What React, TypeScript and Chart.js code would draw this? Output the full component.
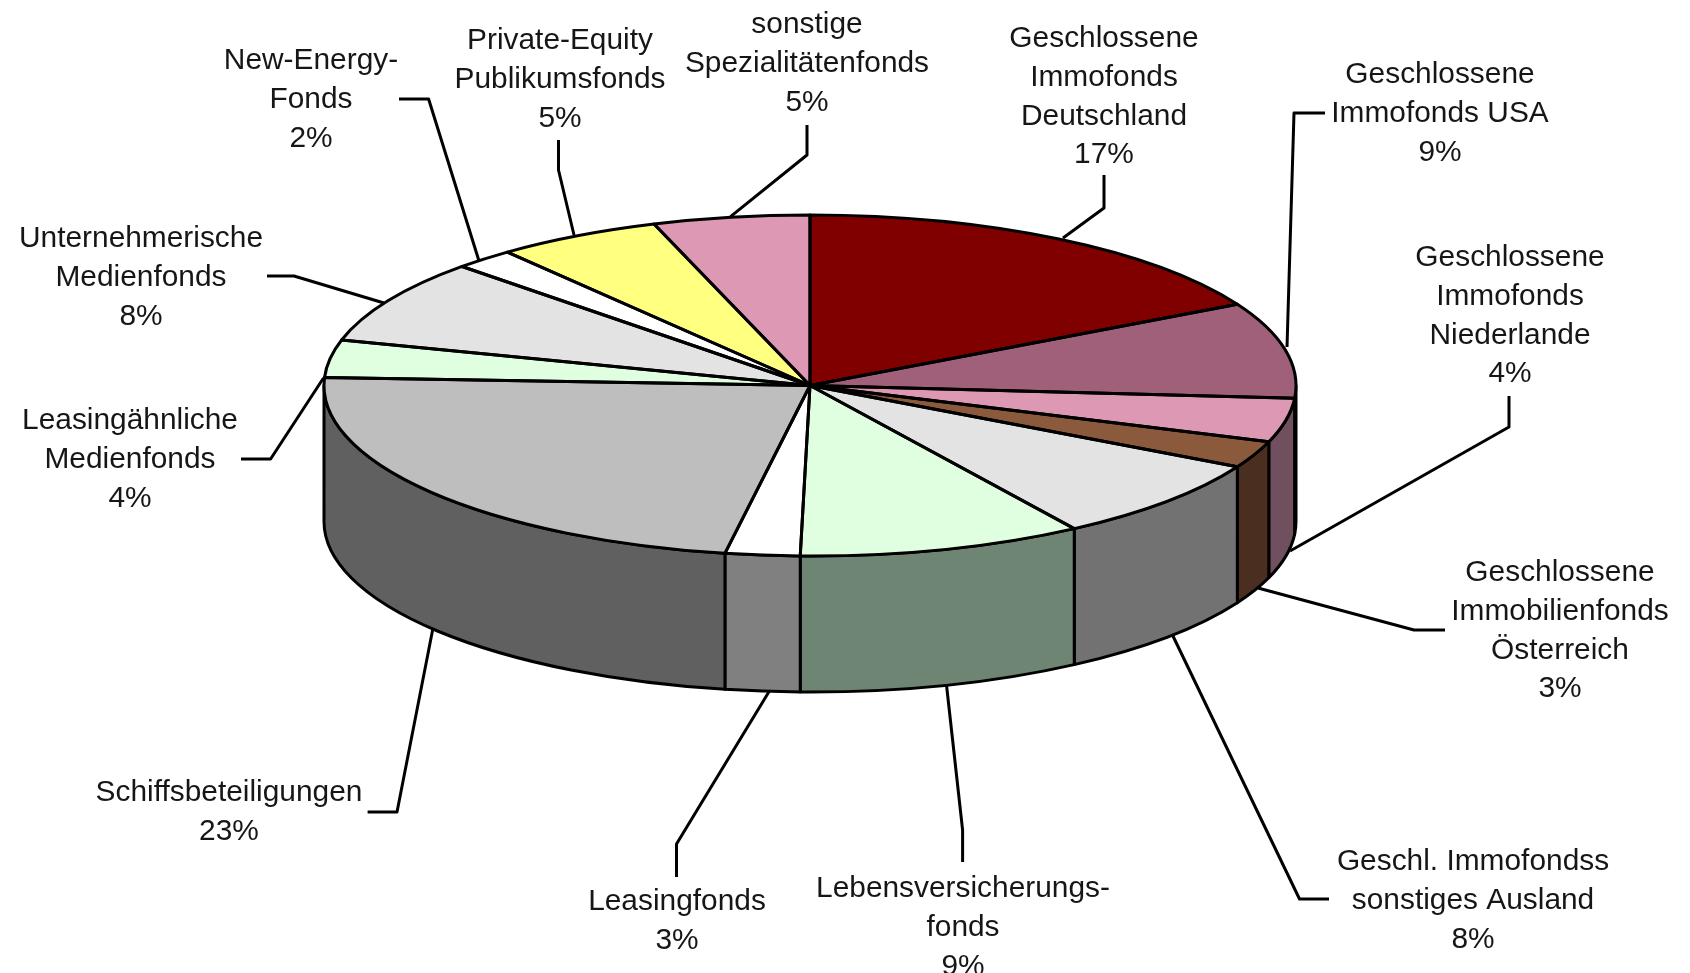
import React, { useEffect, useRef } from "react";
import { Chart, registerables } from "chart.js";

Chart.register(...registerables);

const categories = [
  ["Geschlossene", "Immofonds", "Deutschland"],
  ["Geschlossene", "Immofonds USA"],
  ["Geschlossene", "Immofonds", "Niederlande"],
  ["Geschlossene", "Immobilienfonds", "Österreich"],
  ["Geschl. Immofondss", "sonstiges Ausland"],
  ["Lebensversicherungs-", "fonds"],
  ["Leasingfonds"],
  ["Schiffsbeteiligungen"],
  ["Leasingähnliche", "Medienfonds"],
  ["Unternehmerische", "Medienfonds"],
  ["New-Energy-", "Fonds"],
  ["Private-Equity", "Publikumsfonds"],
  ["sonstige", "Spezialitätenfonds"],
];
const values = [17.1, 9.1, 4.15, 2.55, 7.95, 9.47, 2.48, 22.95, 3.55, 8.0, 2.0, 5.5, 5.2];
const percentLabels = ["17%", "9%", "4%", "3%", "8%", "9%", "3%", "23%", "4%", "8%", "2%", "5%", "5%"];
const topColors = ["#800000", "#A0607A", "#DD99B3", "#8B5A3C", "#E3E3E3", "#E0FFE0", "#FFFFFF", "#BEBEBE", "#E0FFE0", "#E3E3E3", "#FFFFFF", "#FFFF80", "#DD99B3"];
const wallColors = ["#400000", "#70505E", "#70505E", "#4A2E20", "#727272", "#6F8573", "#808080", "#606060", "#6F8573", "#727272", "#808080", "#808040", "#70505E"];

// layout of the hand-placed labels and their leader lines (page pixels)
const labelCentres: [number, number][] = [
  [1104, 36], [1440, 72], [1510, 255], [1560, 570], [1473, 859], [963, 886], [677, 899], [229, 790], [130, 418], [141, 236], [311, 58], [560, 38], [807, 22],
].map(([x, y]) => [x, y + 3] as [number, number]);
const leaders: [number, number][][] = [
  [[1104, 175], [1104, 208], [1063, 238]],
  [[1325, 113], [1294, 113], [1287, 347]],
  [[1509, 396], [1509, 427], [1290, 551]],
  [[1445, 630], [1414, 630], [1258, 588]],
  [[1329, 899], [1299.5, 899], [1172, 634]],
  [[962.6, 862], [962.6, 830], [946.5, 685]],
  [[676.5, 877], [676.5, 844], [770, 690]],
  [[367.6, 812], [397, 812], [433, 628]],
  [[241, 459], [270.6, 459], [323.5, 378]],
  [[267, 276], [294, 276], [384, 303]],
  [[399, 99], [428.6, 99], [478.7, 260]],
  [[558.5, 140], [558.5, 170], [574, 235]],
  [[807, 125], [807, 155], [730.5, 216.7]],
];

const RADIUS = 486;
const SQUASH = 170.5 / 486;
const DEPTH = 136;
const LINE = 3;
const FONT_SIZE = 29;
const TEXT_STRETCH = 1.03;
const LINE_GAP = 38.8;

const pie3d = {
  id: "pie3d",
  beforeDatasetsDraw(chart: any) {
    const ctx = chart.ctx;
    const arcs = chart.getDatasetMeta(0).data;
    ctx.save();
    ctx.strokeStyle = "#000";
    ctx.lineJoin = "round";
    ctx.lineWidth = LINE;
    leaders.forEach((pts) => {
      ctx.beginPath();
      pts.forEach(([x, y], i) => (i ? ctx.lineTo(x, y) : ctx.moveTo(x, y)));
      ctx.stroke();
    });
    arcs.forEach((arc: any, i: number) => {
      const a = Math.max(arc.startAngle, 0);
      const b = Math.min(arc.endAngle, Math.PI);
      if (b <= a) return;
      const ry = arc.outerRadius * SQUASH;
      ctx.beginPath();
      ctx.ellipse(arc.x, arc.y, arc.outerRadius, ry, 0, a, b);
      ctx.ellipse(arc.x, arc.y + DEPTH, arc.outerRadius, ry, 0, b, a, true);
      ctx.closePath();
      ctx.fillStyle = wallColors[i];
      ctx.fill();
      ctx.stroke();
    });
    ctx.restore();
    const c = arcs[0];
    ctx.save();
    ctx.translate(c.x, c.y);
    ctx.scale(1, SQUASH);
    ctx.translate(-c.x, -c.y);
  },
  afterDatasetsDraw(chart: any) {
    const ctx = chart.ctx;
    ctx.restore();
    const arcs = chart.getDatasetMeta(0).data;
    ctx.save();
    ctx.strokeStyle = "#000";
    ctx.lineWidth = LINE;
    ctx.lineJoin = "round";
    arcs.forEach((arc: any) => {
      ctx.beginPath();
      ctx.moveTo(arc.x, arc.y);
      ctx.ellipse(arc.x, arc.y, arc.outerRadius, arc.outerRadius * SQUASH, 0, arc.startAngle, arc.endAngle);
      ctx.closePath();
      ctx.stroke();
    });
    ctx.fillStyle = "#161616";
    ctx.textAlign = "center";
    ctx.textBaseline = "middle";
    ctx.font = `${FONT_SIZE}px "Liberation Sans", Arial, sans-serif`;
    categories.forEach((lines, i) => {
      const [x, y] = labelCentres[i];
      [...lines, percentLabels[i]].forEach((text, n) => {
        ctx.save();
        ctx.translate(x, y + n * LINE_GAP);
        ctx.scale(TEXT_STRETCH, 1);
        ctx.fillText(text, 0, 0);
        ctx.restore();
      });
    });
    ctx.restore();
  },
};

export default function App() {
  const ref = useRef<HTMLCanvasElement>(null);
  useEffect(() => {
    if (!ref.current) return;
    const chart = new Chart(ref.current, {
      type: "pie",
      data: {
        labels: categories.map((l) => l.join(" ")),
        datasets: [
          {
            data: values,
            backgroundColor: topColors,
            borderWidth: 0,
            radius: RADIUS,
            clip: false,
          } as any,
        ],
      },
      options: {
        animation: false,
        responsive: false,
        devicePixelRatio: 1,
        layout: { padding: { left: 0, top: 0, right: 70, bottom: 202 } },
        plugins: { legend: { display: false }, tooltip: { enabled: false } },
      },
      plugins: [pie3d],
    } as any);
    return () => chart.destroy();
  }, []);
  return (
    <div style={{ position: "fixed", left: 0, top: 0, width: 1690, height: 973, background: "#fff", overflow: "hidden" }}>
      <canvas ref={ref} width={1690} height={973} style={{ display: "block", filter: "blur(0.5px)" }} />
    </div>
  );
}
